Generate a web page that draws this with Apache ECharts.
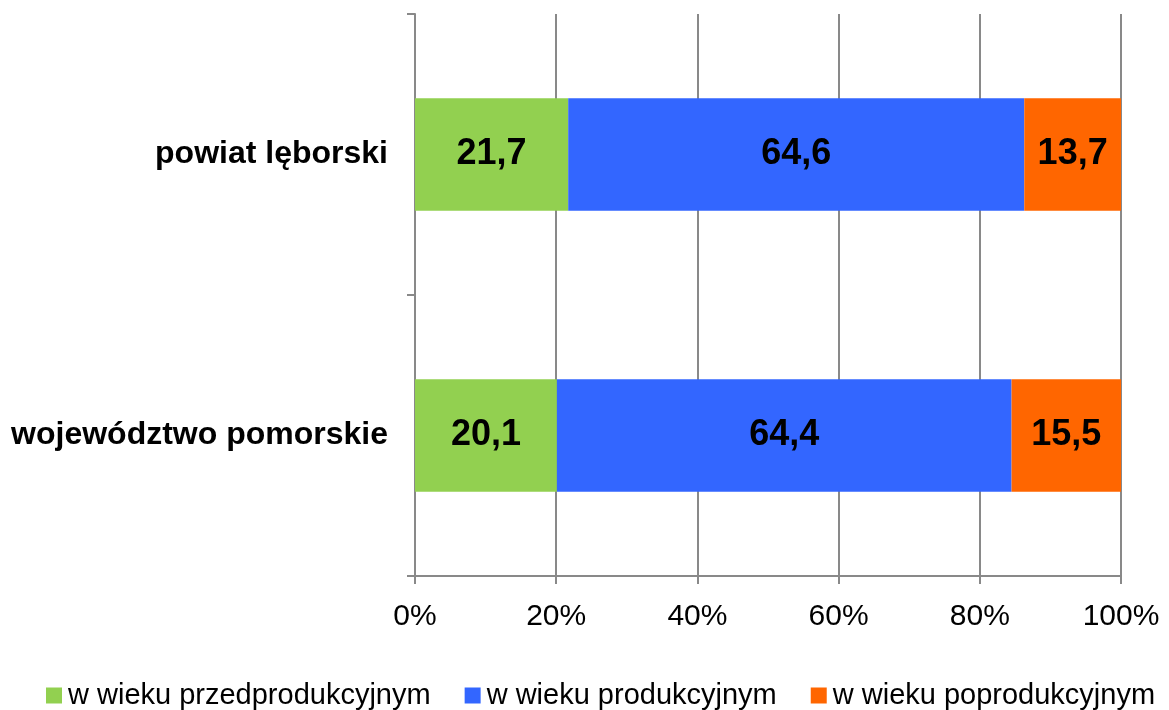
<!DOCTYPE html>
<html>
<head>
<meta charset="utf-8">
<script src="https://cdn.jsdelivr.net/npm/echarts@6/dist/echarts.min.js"></script>
<style>
  html, body { margin: 0; padding: 0; background: #fff; }
  #chart { width: 1169px; height: 710px; }
</style>
</head>
<body>
<div id="chart"></div>
<script>
// categories top to bottom
const regions = ["powiat lęborski", "województwo pomorskie"];
const preWorking = [21.7, 20.1];
const working = [64.6, 64.4];
const postWorking = [13.7, 15.5];
const seriesNames = ["w wieku przedprodukcyjnym", "w wieku produkcyjnym", "w wieku poprodukcyjnym"];
const colors = ["#92D050", "#3366FF", "#FF6600"];

const font = "'Liberation Sans', Arial, sans-serif";
const gray = "#898989";

const chart = echarts.init(document.getElementById("chart"));

const fmt = (p) => p.value.toFixed(1).replace(".", ",");

const makeSeries = (name, data, color) => ({
  name: name,
  type: "bar",
  stack: "total",
  data: data,
  barWidth: "40%",
  itemStyle: { color: color },
  label: {
    show: true,
    position: "inside",
    formatter: fmt,
    color: "#000",
    fontFamily: font,
    fontWeight: "bold",
    fontSize: 36,
  },
});

chart.setOption({
  animation: false,
  grid: { left: 415, right: 48, top: 14, bottom: 134 },
  legend: {
    left: 46,
    top: 681,
    padding: 0,
    itemWidth: 16,
    itemHeight: 16,
    itemGap: 34,
    icon: "rect",
    textStyle: { fontFamily: font, fontSize: 29, color: "#000", padding: [0, 0, 0, 1] },
    data: seriesNames,
  },
  xAxis: {
    type: "value",
    min: 0,
    max: 100,
    interval: 20,
    axisLine: { show: true, lineStyle: { color: gray, width: 2 } },
    axisTick: { show: true, length: 8, lineStyle: { color: gray, width: 2 } },
    splitLine: { show: true, lineStyle: { color: gray, width: 2 } },
    axisLabel: {
      formatter: "{value}%",
      margin: 26,
      fontFamily: font,
      fontSize: 30,
      color: "#000",
    },
  },
  yAxis: {
    type: "category",
    inverse: true,
    data: regions,
    axisLine: { show: true, lineStyle: { color: gray, width: 2 } },
    axisTick: { show: true, length: 8, lineStyle: { color: gray, width: 2 } },
    axisLabel: {
      margin: 27,
      fontFamily: font,
      fontSize: 32,
      fontWeight: "bold",
      color: "#000",
    },
  },
  series: [
    makeSeries(seriesNames[0], preWorking, colors[0]),
    makeSeries(seriesNames[1], working, colors[1]),
    makeSeries(seriesNames[2], postWorking, colors[2]),
  ],
});
</script>
</body>
</html>
